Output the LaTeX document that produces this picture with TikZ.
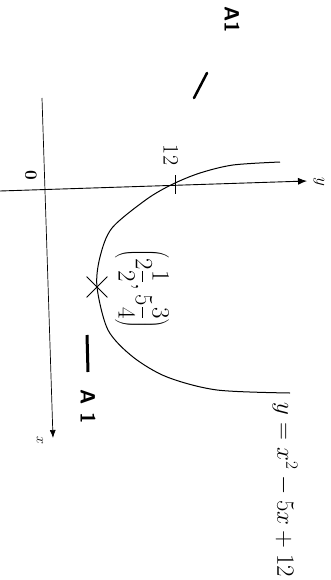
\documentclass[tikz,border=0pt]{standalone}
\usetikzlibrary{arrows.meta,shapes.misc}
\begin{document}
\begin{tikzpicture}[x=1pt,y=-1pt]
\useasboundingbox (0,0) rectangle (330,580);
% axes
\coordinate (ybeg) at (0,191);
\coordinate (yend) at (307,181);
\coordinate (xbeg) at (42,98);
\coordinate (xend) at (53,438);
\draw[line width=0.9pt,-{Latex[length=9pt,width=7pt]}] (ybeg) -- (yend);
\draw[line width=0.7pt,-{Latex[length=8pt,width=6pt]}] (xbeg) -- (xend);
\node[rotate=-90,font=\LARGE] (ylab) at (319,182) {$y$};
\node[rotate=-90,font=\Large] (xlab) at (40,441) {$x$};
\node[rotate=-90,font=\LARGE\bfseries] (orig) at (31,175) {0};

% tick and intercept
\draw[line width=0.9pt] (175,175) -- (175,194);
\node[rotate=-90,font=\fontsize{22}{26}\selectfont] (lab12) at (171,155) {12};

% the curve
\draw[line width=1pt] plot[smooth] coordinates {(280,162) (233,165) (200,173) (173,184) (147,199) (112,228) (100,257) (97,287) (108,330) (133,357) (167,377) (217,390) (290,393)};
\node[draw,cross out,line width=0.8pt,minimum size=20pt,inner sep=0pt] (vtx) at (97,287) {};
\node[rotate=-90,font=\fontsize{23}{28}\selectfont] (vlab) at (142,289) {$\displaystyle\left(2\frac{1}{2},5\frac{3}{4}\right)$};
\node[rotate=-90,font=\fontsize{23}{28}\selectfont] (eq) at (285,490) {$y=x^2-5x+12$};

% marks
\draw[line width=2.5pt,line cap=round] (207,73) -- (194,98);
\draw[line width=3pt] (87,335) -- (88,372);
\node[rotate=-90,font=\huge\sffamily\bfseries] (a1top) at (232,20) {A1};
\node[rotate=-90,font=\huge\sffamily\bfseries] (a1low) at (88,407) {A 1};
\end{tikzpicture}
\end{document}
